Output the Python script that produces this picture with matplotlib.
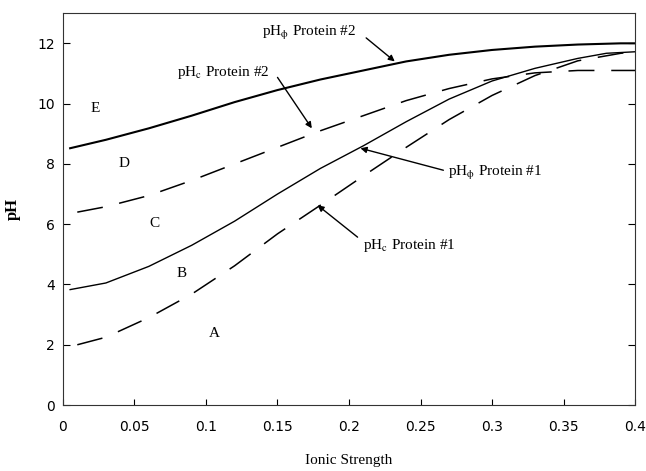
import matplotlib
matplotlib.use("Agg")
import matplotlib.pyplot as plt

plt.rcParams['font.family'] = 'serif'
plt.rcParams['font.serif'] = ['Liberation Serif', 'DejaVu Serif']
plt.rcParams['mathtext.fontset'] = 'stix'

# pH_phi / pH_c curves vs ionic strength for the two proteins
x_phi2 = [0.005, 0.03, 0.06, 0.09, 0.12, 0.15, 0.18, 0.21, 0.24, 0.27, 0.30, 0.33, 0.36, 0.39, 0.40]
ph_phi2 = [8.52, 8.8, 9.18, 9.6, 10.05, 10.45, 10.8, 11.1, 11.4, 11.62, 11.78, 11.89, 11.96, 12.0, 12.0]

x_c2 = [0.01, 0.03, 0.06, 0.09, 0.12, 0.15, 0.18, 0.21, 0.24, 0.27, 0.30, 0.33, 0.36, 0.40]
ph_c2 = [6.4, 6.58, 6.95, 7.45, 8.0, 8.55, 9.1, 9.6, 10.1, 10.5, 10.82, 11.02, 11.1, 11.1]

x_phi1 = [0.005, 0.03, 0.06, 0.09, 0.12, 0.15, 0.18, 0.21, 0.24, 0.27, 0.30, 0.33, 0.36, 0.38, 0.40]
ph_phi1 = [3.83, 4.05, 4.6, 5.3, 6.1, 7.0, 7.85, 8.6, 9.4, 10.15, 10.75, 11.17, 11.5, 11.67, 11.72]

x_c1 = [0.01, 0.03, 0.06, 0.09, 0.12, 0.15, 0.18, 0.21, 0.24, 0.27, 0.30, 0.33, 0.36, 0.39, 0.40]
ph_c1 = [2.0, 2.25, 2.9, 3.68, 4.62, 5.68, 6.63, 7.6, 8.55, 9.47, 10.27, 10.93, 11.42, 11.67, 11.72]

# region letters
regions = ['E', 'D', 'C', 'B', 'A']
region_x = [0.0224, 0.043, 0.064, 0.083, 0.106]
region_y = [9.84, 8.02, 6.03, 4.38, 2.39]

# curve labels: text anchor (left, centre) and arrow target on the curve
labels = [r'pH$_\mathrm{\phi}$ Protein #2', r'pH$_\mathrm{c}$ Protein #2',
          r'pH$_\mathrm{\phi}$ Protein #1', r'pH$_\mathrm{c}$ Protein #1']
label_xy = [(0.139, 12.33), (0.0797, 11.04), (0.269, 7.69), (0.21, 5.30)]
tail_xy = [(0.212, 12.18), (0.150, 10.87), (0.266, 7.79), (0.206, 5.57)]
tip_xy = [(0.232, 11.40), (0.174, 9.18), (0.208, 8.52), (0.178, 6.63)]

xticks = [0, 0.05, 0.1, 0.15, 0.2, 0.25, 0.3, 0.35, 0.4]
xtick_labels = ['0', '0.05', '0.1', '0.15', '0.2', '0.25', '0.3', '0.35', '0.4']
yticks = [0, 2, 4, 6, 8, 10, 12]

fig = plt.figure(figsize=(6.46, 4.71), dpi=100)
ax = fig.add_axes([0.0975, 0.140, 0.8855, 0.832])

dash = (0, (17, 11))
ax.plot(x_phi2, ph_phi2, color='black', lw=1.5)
ax.plot(x_c2, ph_c2, color='black', lw=1.1, linestyle=dash)
ax.plot(x_phi1, ph_phi1, color='black', lw=1.0)
ax.plot(x_c1, ph_c1, color='black', lw=1.1, linestyle=dash)

for r, rx, ry in zip(regions, region_x, region_y):
    ax.text(rx, ry, r, fontsize=11, ha='center', va='center')

for txt, lxy, txy, pxy in zip(labels, label_xy, tail_xy, tip_xy):
    ax.text(lxy[0], lxy[1], txt, fontsize=11, ha='left', va='center')
    ax.annotate('', xy=pxy, xytext=txy,
                arrowprops=dict(arrowstyle='-|>', color='black', lw=1.0,
                                mutation_scale=9, shrinkA=0, shrinkB=0))

ax.set_xlim(0, 0.4)
ax.set_ylim(0, 13)
ax.set_xticks(xticks)
ax.set_xticklabels(xtick_labels, family='DejaVu Sans', fontsize=10)
ax.set_yticks(yticks)
ax.set_yticklabels([str(v) for v in yticks], family='DejaVu Sans', fontsize=10)
ax.tick_params(axis='x', direction='in', length=4, width=0.8, pad=11)
ax.tick_params(axis='y', direction='in', length=5, width=0.8, pad=6,
               right=True)

for s in ax.spines.values():
    s.set_linewidth(0.8)
    s.set_color('#333333')

ax.set_xlabel('Ionic Strength', fontsize=11, labelpad=14)
ax.set_ylabel('pH', fontsize=12, fontweight='bold', labelpad=12)

fig.savefig('out.png', dpi=100)
